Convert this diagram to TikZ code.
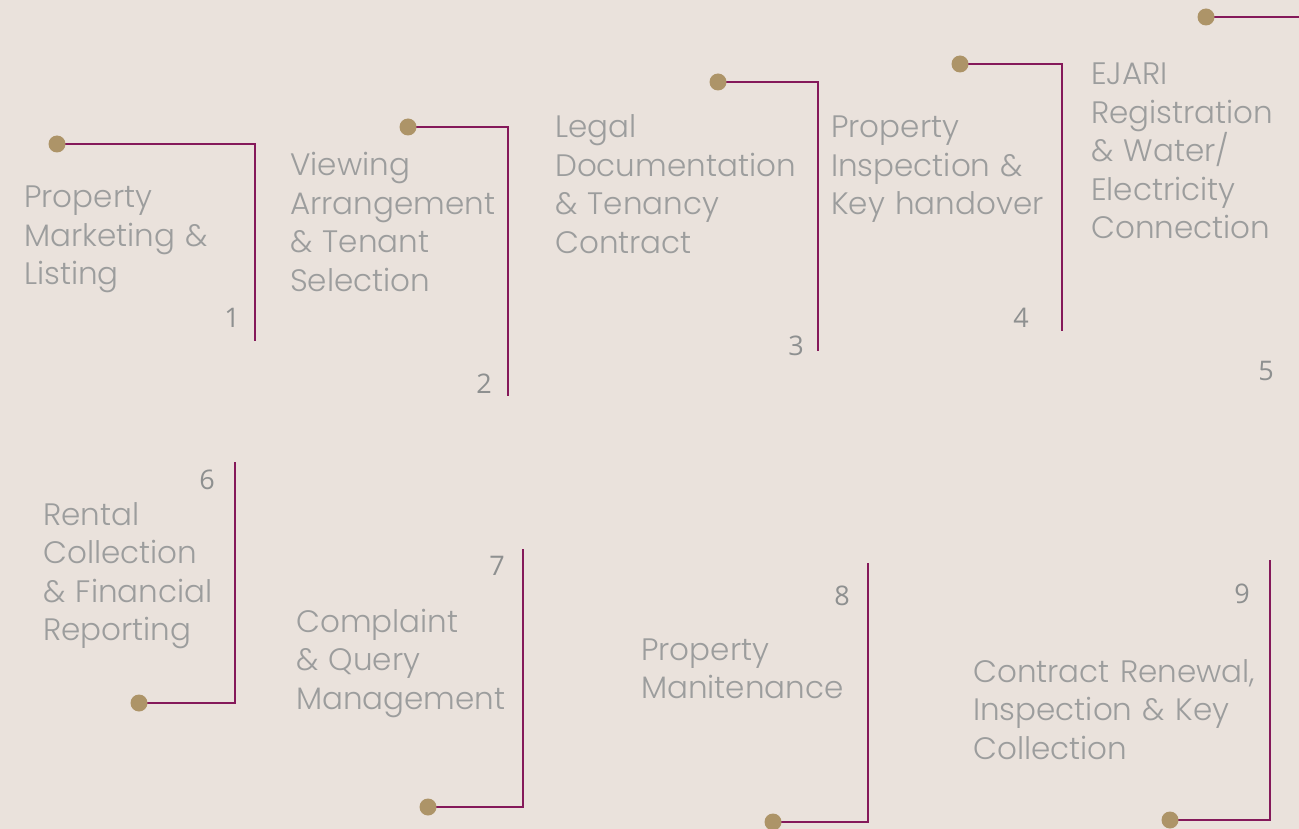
\documentclass[tikz,border=0pt]{standalone}
\usepackage{fontspec}
\setmainfont{Poppins Light}
\newfontfamily\numfont{Open Sans}
\usetikzlibrary{positioning}
\definecolor{bgcol}{HTML}{EAE2DC}
\definecolor{linecol}{HTML}{85195A}
\definecolor{knobcol}{HTML}{AD9468}
\definecolor{textgray}{HTML}{9C9D9D}
\definecolor{numgray}{HTML}{8E9090}
\tikzstyle{stage} = [anchor=base west, inner sep=0pt, text width=290pt, align=left, text=textgray, font=\fontsize{31}{38.5}\selectfont]
\tikzstyle{stepnum} = [anchor=base east, inner sep=0pt, text=numgray, font=\numfont\fontsize{27}{30}\selectfont]
\tikzstyle{knob} = [circle, fill=knobcol, minimum size=17pt, inner sep=0pt]
\tikzstyle{link} = [draw=linecol, line width=2pt]

\begin{document}
\begin{tikzpicture}[x=1pt, y=-1pt]
 \fill[bgcol] (0,0) rectangle (1299,829);
 \useasboundingbox (0,0) rectangle (1299,829);

 % top row: knob, line across, then down
 \coordinate (end1) at (255,341);
 \coordinate (end2) at (508,396);
 \coordinate (end3) at (818,351);
 \coordinate (end4) at (1062,331);
 \coordinate (end5) at (1299,17);
 \draw [link] (57,144) -| (end1);
 \draw [link] (408,127) -| (end2);
 \draw [link] (718,82) -| (end3);
 \draw [link] (960,64) -| (end4);
 \draw [link] (1206,17) -- (end5);
 \node (knob1) [knob] at (57,144) {};
 \node (knob2) [knob] at (408,127) {};
 \node (knob3) [knob] at (718,82) {};
 \node (knob4) [knob] at (960,64) {};
 \node (knob5) [knob] at (1206,17) {};

 \node (marketing) [stage] at (24,208) {Property\\Marketing \&\\Listing};
 \node (viewing) [stage] at (290,176) {Viewing\\Arrangement\\\& Tenant\\Selection};
 \node (legal) [stage] at (555,138) {Legal\\Documentation\\\& Tenancy\\Contract};
 \node (inspection) [stage] at (831,138) {Property\\Inspection \&\\Key handover};
 \node (ejari) [stage] at (1091,85) {EJARI\\Registration\\\& Water/\\Electricity\\Connection};

 \node (num1) [stepnum] at (240,327) {1};
 \node (num2) [stepnum] at (492,393) {2};
 \node (num3) [stepnum] at (804,355) {3};
 \node (num4) [stepnum] at (1029,327) {4};
 \node (num5) [stepnum] at (1274,380) {5};

 % bottom row: line down from top, then back to knob
 \coordinate (top6) at (235,462);
 \coordinate (top7) at (523,549);
 \coordinate (top8) at (868,563);
 \coordinate (top9) at (1270,560);
 \draw [link] (top6) |- (139,703);
 \draw [link] (top7) |- (428,807);
 \draw [link] (top8) |- (773,822);
 \draw [link] (top9) |- (1170,820);
 \node (knob6) [knob] at (139,703) {};
 \node (knob7) [knob] at (428,807) {};
 \node (knob8) [knob] at (773,822) {};
 \node (knob9) [knob] at (1170,820) {};

 \node (rental) [stage] at (43,525) {Rental\\Collection\\\& Financial\\Reporting};
 \node (complaint) [stage] at (296,632) {Complaint\\\& Query\\Management};
 \node (maintenance) [stage] at (641,660) {Property\\Manitenance};
 \node (renewal) [stage] at (973,682) {Contract Renewal,\\Inspection \& Key\\Collection};

 \node (num6) [stepnum] at (215,489) {6};
 \node (num7) [stepnum] at (505,575) {7};
 \node (num8) [stepnum] at (850,605) {8};
 \node (num9) [stepnum] at (1250,603) {9};
\end{tikzpicture}
\end{document}
